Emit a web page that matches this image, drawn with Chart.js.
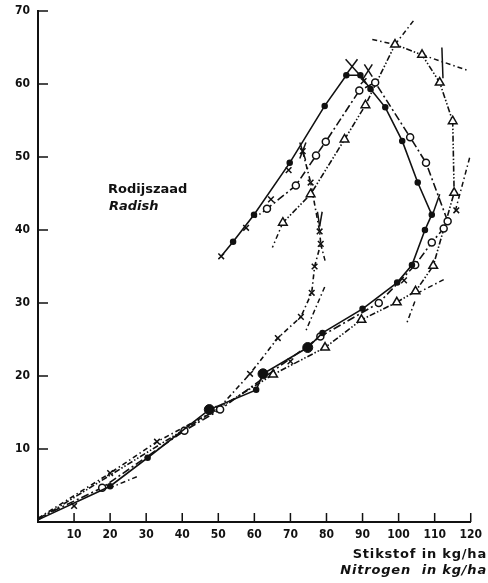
<!DOCTYPE html>
<html>
<head>
<meta charset="utf-8">
<script src="https://cdn.jsdelivr.net/npm/chart.js@4.4.1/dist/chart.umd.min.js"></script>
<style>
  html, body { margin: 0; padding: 0; background: #fff; }
</style>
</head>
<body>
<canvas id="myChart" width="488" height="583"></canvas>
<script>
// nitrogen (kg/ha) against dry matter, four treatments
const dotN = [0, 20, 30.4, 47.5, 60.5, 62.4, 74.8, 78.9, 90, 99.6, 103.7, 107.3, 109.2, 105.3, 101, 96.3, 92.2, 89.4, 85.5, 79.5, 69.8, 59.9, 54.1, 50.8];
const dotY = [0.3, 4.9, 8.8, 15.4, 18.1, 20.3, 23.9, 25.9, 29.2, 32.8, 35.2, 40, 42.1, 46.5, 52.2, 56.8, 59.3, 61.2, 61.2, 57, 49.2, 42.1, 38.4, 36.4];

const ringN = [0, 17.8, 40.6, 50.5, 78.3, 94.5, 104.6, 109.2, 112.5, 113.6, 107.6, 103.2, 93.5, 89.1, 79.8, 77.1, 71.5, 63.5];
const ringY = [0.5, 4.7, 12.5, 15.4, 25.4, 30, 35.2, 38.3, 40.2, 41.2, 49.2, 52.7, 60.2, 59.1, 52.1, 50.2, 46.1, 42.9];

const triN = [0, 65.2, 79.6, 89.7, 99.5, 104.7, 109.6, 115.4, 115, 111.4, 106.5, 99, 90.8, 85, 75.6, 67.9];
const triY = [0.3, 20.2, 23.9, 27.7, 30.1, 31.6, 35.1, 45.1, 54.9, 60.2, 64, 65.4, 57.1, 52.4, 44.9, 41];

const crossN = [0, 20, 33, 50, 58.8, 66.5, 72.9, 75.9, 76.7, 78.4, 78.1, 75.6, 73.4];
const crossY = [0.5, 6.7, 11, 15.5, 20.3, 25.2, 28.1, 31.4, 35, 38.1, 39.8, 46.5, 50.8];

// loose x marks and the large dots
const looseN = [10, 50.8, 57.7, 64.6, 69.5, 90.3, 101.5, 116, 70];
const looseY = [2.2, 36.4, 40.3, 44.2, 48.2, 60.4, 33.1, 42.7, 22];
const bigN = [47.5, 62.4, 74.8];
const bigY = [15.4, 20.3, 23.9];

// extension lines [n1, y1, n2, y2]
const extLines = [
  [92.7, 66.1, 99, 65.4], [106.5, 64, 118.9, 61.9], [99, 65.4, 104.5, 68.9],
  [119.7, 49.9, 115.6, 42.4], [112.5, 33.2, 105, 31.3], [104.5, 30.2, 102.3, 27.3],
  [79.5, 32.2, 74.2, 26.1], [27.4, 6.2, 20.5, 4.8], [67.9, 41, 65, 37.6],
  [63.5, 42.9, 60.2, 41.7], [78.4, 38.1, 79.6, 35.8]
];
// short cross strokes
const crossLines = [
  [85.3, 63.4, 89.1, 61.3], [88.6, 63.4, 85, 61], [90.5, 62.7, 92.7, 61.0], [92.7, 62.7, 90, 60.6],
  [112, 65, 112.3, 60.8], [72.6, 52, 74.2, 49.6], [74.3, 52, 72.6, 49.8],
  [77.5, 42.5, 78.1, 40.5], [78.1, 40.5, 78.8, 42.5], [111.4, 44.9, 109.2, 41.8]
];

const xTicks = [10, 20, 30, 40, 50, 60, 70, 80, 90, 100, 110, 120];
const yTicks = [10, 20, 30, 40, 50, 60, 70];

const ink = '#111';
const pts = (xs, ys) => xs.map((x, i) => ({ x, y: ys[i] }));
const endsOff = (r, last) => c => (c.dataIndex === 0 || (last && c.dataIndex === c.dataset.data.length - 1)) ? 0 : r;

function series(xs, ys, style, r, dash, fillCol, lastOff) {
  return {
    data: pts(xs, ys),
    showLine: true,
    borderColor: ink,
    borderWidth: 1.6,
    borderDash: dash,
    pointStyle: style,
    pointRadius: endsOff(r, lastOff),
    pointBorderColor: ink,
    pointBorderWidth: 1.5,
    pointBackgroundColor: fillCol
  };
}

function segment(s, dash) {
  return {
    data: [{ x: s[0], y: s[1] }, { x: s[2], y: s[3] }],
    showLine: true,
    borderColor: ink,
    borderWidth: 1.5,
    borderDash: dash,
    pointRadius: 0
  };
}

const datasets = [
  series(dotN, dotY, 'circle', 2.5, [], ink, true),
  series(ringN, ringY, 'circle', 3.5, [8, 3, 2, 3], '#fff', false),
  series(triN, triY, 'triangle', 5, [6, 2, 1.5, 2, 1.5, 2], '#fff', false),
  series(crossN, crossY, 'crossRot', 4, [5, 3, 1.5, 3], ink, false),
  { data: pts(looseN, looseY), pointStyle: 'crossRot', pointRadius: 4, pointBorderColor: ink, pointBorderWidth: 1.5, showLine: false },
  { data: pts(bigN, bigY), pointStyle: 'circle', pointRadius: 5, pointBackgroundColor: ink, pointBorderColor: ink, showLine: false },
  ...extLines.map(s => segment(s, [5, 3, 1.5, 3])),
  ...crossLines.map(s => segment(s, []))
];

const tickFont = { family: 'DejaVu Sans Condensed', size: 12, weight: 'bold' };

// inward tick marks and the free text
const decorations = {
  id: 'decorations',
  afterDraw(chart) {
    const { ctx, chartArea: a, scales: { x, y } } = chart;
    ctx.save();
    ctx.strokeStyle = ink;
    ctx.lineWidth = 1.5;
    ctx.beginPath();
    xTicks.forEach(v => {
      const px = x.getPixelForValue(v);
      ctx.moveTo(px, a.bottom);
      ctx.lineTo(px, a.bottom - 9);
    });
    yTicks.forEach(v => {
      const py = y.getPixelForValue(v);
      ctx.moveTo(a.left, py);
      ctx.lineTo(a.left + 10, py);
    });
    ctx.stroke();

    ctx.fillStyle = ink;
    ctx.textAlign = 'left';
    ctx.font = 'bold 13px "DejaVu Sans"';
    ctx.fillText('Rodijszaad', 108, 193);
    ctx.font = 'italic bold 13px "DejaVu Sans"';
    ctx.fillText('Radish', 109, 210);

    ctx.textAlign = 'right';
    ctx.letterSpacing = '0.8px';
    ctx.font = 'bold 13px "DejaVu Sans"';
    ctx.fillText('Stikstof in kg/ha', 487, 558);
    ctx.font = 'italic bold 13px "DejaVu Sans"';
    ctx.fillText('Nitrogen  in kg/ha', 487, 574);
    ctx.restore();
  }
};

new Chart(document.getElementById('myChart').getContext('2d'), {
  type: 'scatter',
  data: { datasets },
  plugins: [decorations],
  options: {
    responsive: false,
    animation: false,
    layout: { padding: { top: 11, right: 13, left: 0, bottom: 0 } },
    plugins: { legend: { display: false }, tooltip: { enabled: false } },
    scales: {
      x: {
        type: 'linear', min: 0, max: 120,
        afterFit: s => { s.height = 61; },
        border: { color: ink, width: 2 },
        grid: { display: false, drawTicks: false },
        ticks: { stepSize: 10, padding: 6, color: ink, font: tickFont, autoSkip: false, maxRotation: 0,
                 callback: v => (v === 0 ? '' : v) }
      },
      y: {
        type: 'linear', min: 0, max: 70,
        afterFit: s => { s.width = 38; s.paddingTop = 0; s.paddingBottom = 0; },
        border: { color: ink, width: 2 },
        grid: { display: false, drawTicks: false },
        ticks: { stepSize: 10, padding: 8, color: ink, font: tickFont,
                 callback: v => (v === 0 ? '' : v) }
      }
    }
  }
});
</script>
</body>
</html>
